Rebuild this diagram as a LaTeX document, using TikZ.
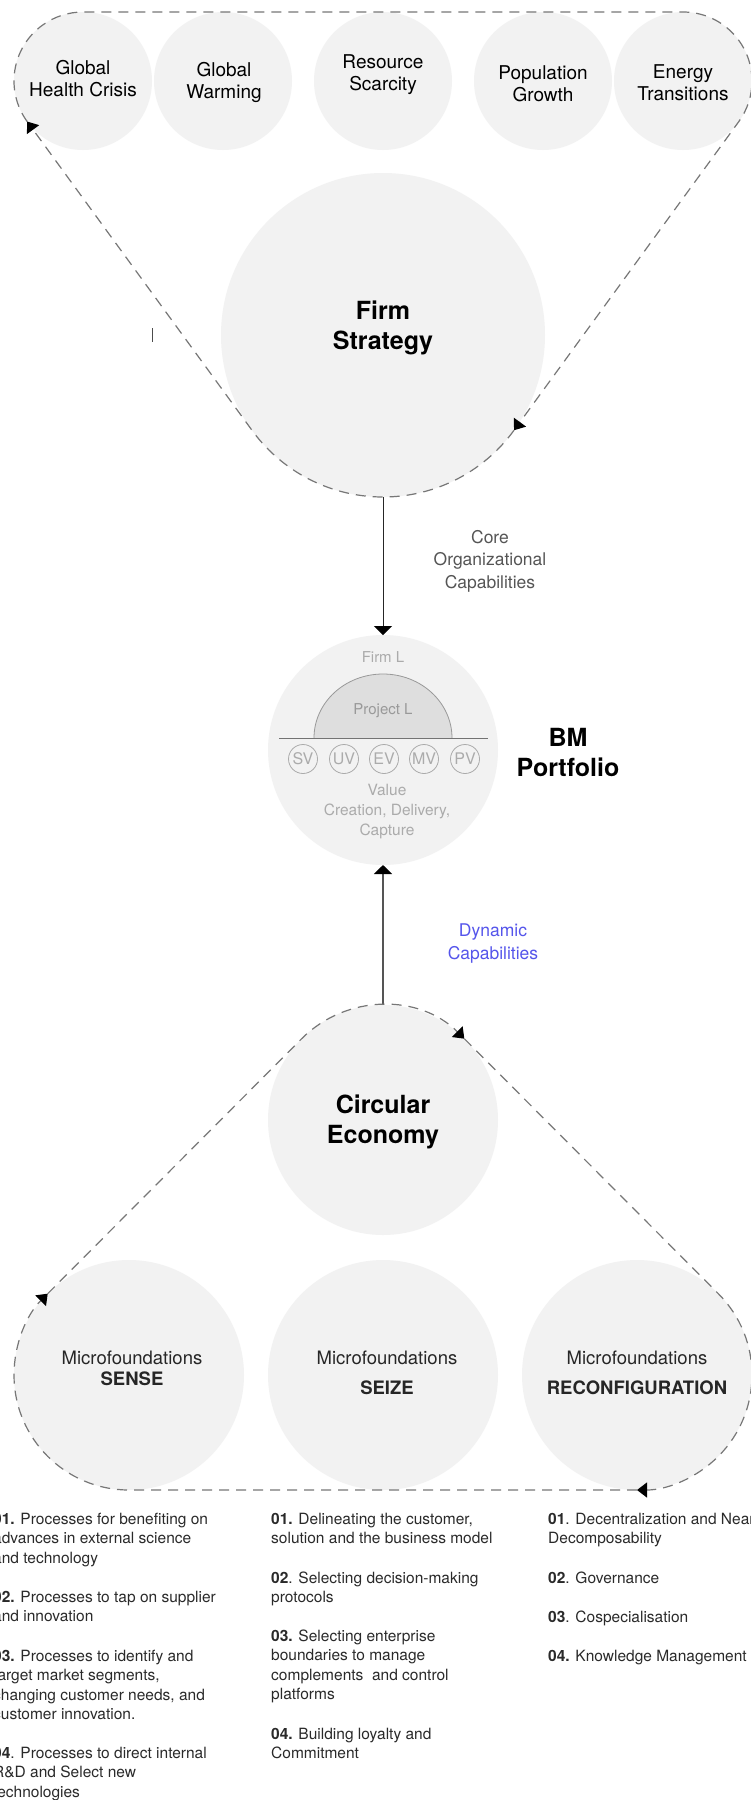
\documentclass[tikz,border=0pt]{standalone}
\usepackage{fontspec}
\setmainfont{TeX Gyre Heros}
\usetikzlibrary{arrows.meta}
\definecolor{cfill}{HTML}{F2F2F2}
\definecolor{dashc}{HTML}{777777}
\definecolor{lightt}{HTML}{ABABAB}
\definecolor{midt}{HTML}{555555}
\definecolor{dyn}{RGB}{85,85,235}
\definecolor{listt}{HTML}{2A2A2A}
\definecolor{projfill}{HTML}{DEDEDE}
\newcommand\fsz[2]{\fontsize{#1}{#2}\selectfont}
\newcommand\tstrut{\rule{0pt}{12pt}}
\begin{document}
\begin{tikzpicture}[x=1pt,y=1pt,
  circ/.style={circle, fill=cfill, draw=none, inner sep=0pt, outer sep=0pt, minimum size=#1},
  loopline/.style={draw=dashc, line width=1.2pt, dash pattern=on 10pt off 7pt, -{Triangle[length=10pt,width=15pt,black]}},
  vtext/.style={align=center, inner sep=0pt},
  toptext/.style={vtext, font=\fsz{19}{22}},
  bigbold/.style={vtext, font=\bfseries\fsz{25}{30}},
  listitem/.style={anchor=north west, align=left, inner sep=0pt, text=listt, font=\fsz{15.5}{19.5}},
  val/.style={circle, draw=lightt, line width=0.8pt, minimum size=29pt, inner sep=0pt, text=lightt, font=\fsz{16}{16}},
  vertarrow/.style={line width=1pt, -{Triangle[length=9pt,width=18pt,black]}},
]
\useasboundingbox[fill=white] (0,0) rectangle (751,-1800);

% top circles
\node[circ=138] (ghc) at (83,-81) {};
\node[circ=138] (gw) at (223,-81) {};
\node[circ=138] (rs) at (383,-81) {};
\node[circ=138] (pg) at (543,-81) {};
\node[circ=138] (et) at (683,-81) {};
\node[toptext] (tghc) at (83,-79) {Global\\Health Crisis};
\node[toptext] (tgw) at (224,-82) {Global\\Warming};
\node[toptext] (trs) at (383,-75) {Resource\\Scarcity};
\node[toptext] (tpg) at (543,-84) {Population\\Growth};
\node[toptext] (tet) at (683,-83) {Energy\\Transitions};

% firm strategy
\node[circ=324] (fs) at (383,-335) {};
\node[bigbold] (tfs) at (383,-328) {Firm\\Strategy};

% top loop
\draw[loopline] (ghc.216) arc[start angle=216, end angle=90, radius=69] -- (et.90)
   arc[start angle=90, end angle=-36, radius=69] -- (fs.324);
\draw[loopline] (fs.324) arc[start angle=-36, end angle=-144, radius=162] -- (ghc.216);

% small mark
\draw[line width=1pt, color=black!70] (152,-328) -- (152,-342);

% BM portfolio
\node[circ=230] (bm) at (383,-750) {};
\draw[vertarrow, color=black!85] (fs.south) -- (bm.north);
\node[vtext, font=\fsz{17.5}{22.5}, text=midt] (core) at (490,-561) {Core\\Organizational\\Capabilities};

\node[font=\fsz{15}{18}, text=lightt, inner sep=0pt] (firml) at (383,-657) {Firm L};
\fill[projfill] (314,-738) arc[start angle=180, end angle=0, x radius=69, y radius=64] -- cycle;
\draw[color=black!40, line width=0.8pt] (314,-738) arc[start angle=180, end angle=0, x radius=69, y radius=64];
\draw[color=black!55, line width=0.9pt] (279,-738) -- (488,-738);
\node[font=\fsz{15}{18}, text=black!40, inner sep=0pt] (projl) at (383,-711) {Project L};
\node[val] (sv) at (303,-759) {SV};
\node[val] (uv) at (344,-759) {UV};
\node[val] (ev) at (384,-759) {EV};
\node[val] (mv) at (424,-759) {MV};
\node[val] (pv) at (465,-759) {PV};
\node[vtext, font=\fsz{15.5}{20}, text=lightt] (value) at (387,-812) {Value\\Creation, Delivery,\\Capture};
\node[bigbold] (bmt) at (568,-752) {BM\\Portfolio};

% circular economy
\node[circ=230] (ce) at (383,-1120) {};
\draw[vertarrow, color=midt, line width=1.2pt] (ce.north) -- (bm.south);
\node[vtext, font=\fsz{17.5}{23}, text=dyn] (dyntxt) at (493,-944) {Dynamic\\Capabilities};
\node[bigbold] (tce) at (383,-1122) {Circular\\Economy};

% microfoundations
\node[circ=230] (se) at (129,-1375) {};
\node[circ=230] (sz) at (383,-1375) {};
\node[circ=230] (rc) at (637,-1375) {};
\node[vtext, font=\fsz{18.5}{21}, text=black!85] (tse) at (132,-1368) {Microfoundations\\\textbf{SENSE}};
\node[vtext, font=\fsz{18.5}{30}, text=black!85] (tsz) at (387,-1373) {Microfoundations\\\textbf{SEIZE}};
\node[vtext, font=\fsz{18.5}{30}, text=black!85] (trc) at (637,-1373) {Microfoundations\\\textbf{RECONFIGURATION}};

% bottom loop
\draw[loopline] (se.135) -- (ce.135) arc[start angle=135, end angle=45, radius=115];
\draw[loopline] (ce.45) -- (rc.45) arc[start angle=45, end angle=-90, radius=115];
\draw[loopline] (rc.270) -- (se.270) arc[start angle=270, end angle=135, radius=115];

% lists
\node[listitem] (a1) at (-7,-1512) {\tstrut\textbf{01.} Processes for benefiting on\\advances in external science\\and technology};
\node[listitem] (a2) at (-7,-1590) {\tstrut\textbf{02.} Processes to tap on supplier\\and innovation};
\node[listitem] (a3) at (-7,-1649) {\tstrut\textbf{03.} Processes to identify and\\target market segments,\\changing customer needs, and\\customer innovation.};
\node[listitem] (a4) at (-7,-1746) {\tstrut\textbf{04}. Processes to direct internal\\R\&D and Select new\\technologies};

\node[listitem] (b1) at (271,-1512) {\tstrut\textbf{01.} Delineating the customer,\\solution and the business model};
\node[listitem] (b2) at (271,-1571) {\tstrut\textbf{02}. Selecting decision-making\\protocols};
\node[listitem] (b3) at (271,-1629) {\tstrut\textbf{03.} Selecting enterprise\\boundaries to manage\\complements\ \ and control\\platforms};
\node[listitem] (b4) at (271,-1727) {\tstrut\textbf{04.} Building loyalty and\\Commitment};

\node[listitem] (c1) at (548,-1512) {\tstrut\textbf{01}. Decentralization and Near\\Decomposability};
\node[listitem] (c2) at (548,-1571) {\tstrut\textbf{02}. Governance};
\node[listitem] (c3) at (548,-1610) {\tstrut\textbf{03}. Cospecialisation};
\node[listitem] (c4) at (548,-1649) {\tstrut\textbf{04.} Knowledge Management};
\end{tikzpicture}
\end{document}
